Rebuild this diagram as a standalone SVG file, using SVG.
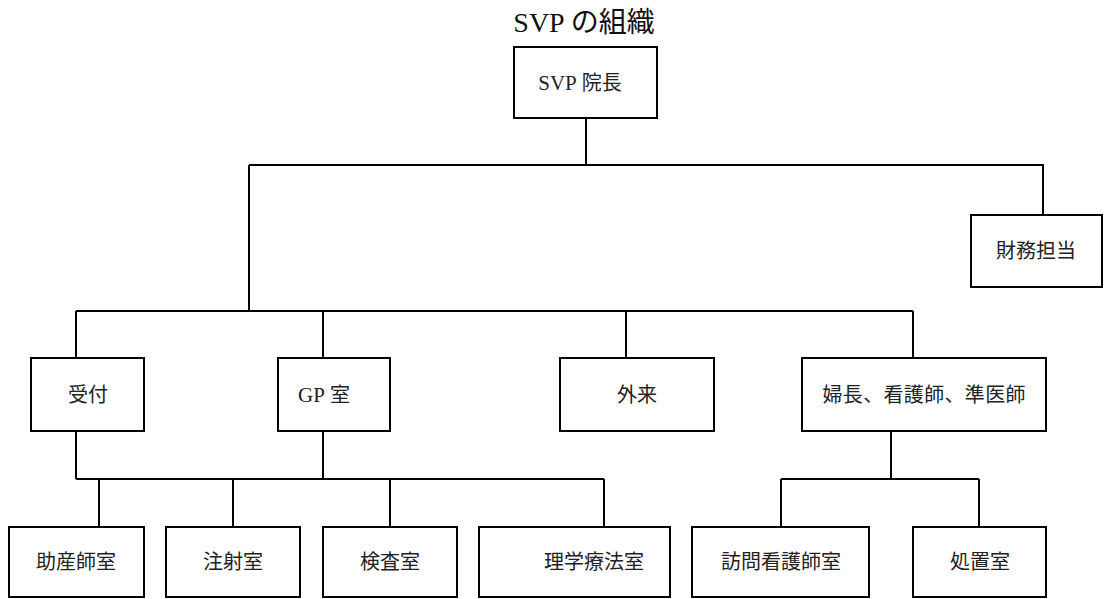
<svg xmlns="http://www.w3.org/2000/svg" width="1109" height="599" viewBox="0 0 1109 599">
<style>
.box{fill:#fff;stroke:#000;stroke-width:2}
.ln{fill:none;stroke:#000;stroke-width:2}
text{font-family:"Liberation Serif","Noto Sans CJK JP",serif;font-size:20px;fill:#222;text-anchor:middle;dominant-baseline:central}
.title{font-size:28px;fill:#111}
.lat{font-size:21px}
</style>
<rect width="1109" height="599" fill="#fff"/>
<text class="title" x="584" y="22"><tspan>SVP </tspan>の組織</text>
<g id="connectors">
<path class="ln" d="M586 118V165M249 165H1043V215M249 165V311M76 311H913M76 311V358M323 311V358M626 311V358M913 311V358"/>
<path class="ln" d="M76 431V479M323 431V479M76 479H604M99 479V527M233 479V527M390 479V527M604 479V527"/>
<path class="ln" d="M891 431V479M781 479H979M781 479V527M979 479V527"/>
</g>
<g id="n-director"><rect class="box" x="514" y="47" width="143" height="71"/><text x="580" y="83"><tspan class="lat">SVP</tspan> 院長</text></g>
<g id="n-finance"><rect class="box" x="971" y="215" width="131" height="72"/><text x="1036" y="251">財務担当</text></g>
<g id="n-reception"><rect class="box" x="31" y="358" width="113" height="73"/><text x="88" y="395">受付</text></g>
<g id="n-gp"><rect class="box" x="278" y="358" width="112" height="73"/><text x="324" y="395"><tspan class="lat">GP</tspan> 室</text></g>
<g id="n-outpatient"><rect class="box" x="560" y="358" width="154" height="73"/><text x="637" y="395">外来</text></g>
<g id="n-nurses"><rect class="box" x="802" y="358" width="244" height="73"/><text x="924" y="395" textLength="203">婦長、看護師、準医師</text></g>
<g id="n-midwife"><rect class="box" x="9" y="527" width="135" height="70"/><text x="76" y="562">助産師室</text></g>
<g id="n-injection"><rect class="box" x="166" y="527" width="134" height="70"/><text x="233" y="562">注射室</text></g>
<g id="n-lab"><rect class="box" x="323" y="527" width="134" height="70"/><text x="390" y="562">検査室</text></g>
<g id="n-physio"><rect class="box" x="479" y="527" width="191" height="70"/><text x="594" y="562">理学療法室</text></g>
<g id="n-visiting"><rect class="box" x="692" y="527" width="177" height="70"/><text x="781" y="562">訪問看護師室</text></g>
<g id="n-treatment"><rect class="box" x="913" y="527" width="133" height="70"/><text x="980" y="562">処置室</text></g>
</svg>
